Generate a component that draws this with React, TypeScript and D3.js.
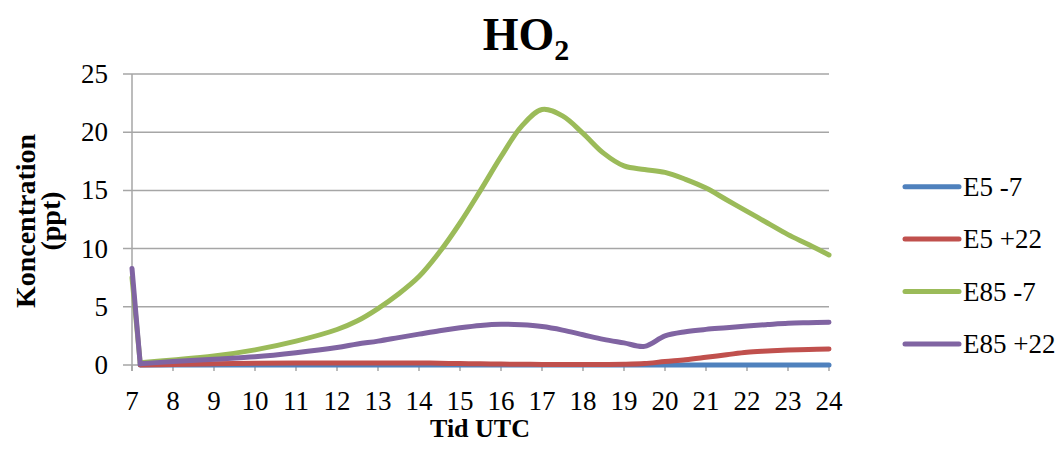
import React, { useRef, useEffect } from "react"
import * as d3 from "d3"

const hours = [7, 7.2, 8, 9, 10, 11, 12, 12.5, 13, 13.5, 14, 14.5, 15, 15.5, 16, 16.5, 17, 17.5, 18, 18.5, 19, 19.5, 20, 20.5, 21, 21.5, 22, 22.5, 23, 23.5, 24]

const e5Minus7 = [null, 0, 0, 0, 0, 0, 0, 0, 0, 0, 0, 0, 0, 0, 0, 0, 0, 0, 0, 0, 0, 0, 0, 0, 0, 0, 0, 0, 0, 0, 0]
const e5Plus22 = [null, 0, 0.05, 0.1, 0.15, 0.17, 0.18, 0.18, 0.18, 0.18, 0.18, 0.15, 0.12, 0.1, 0.08, 0.06, 0.05, 0.05, 0.05, 0.05, 0.06, 0.12, 0.3, 0.45, 0.66, 0.88, 1.1, 1.2, 1.28, 1.33, 1.37]
const e85Minus7 = [7.5, 0.2, 0.43, 0.77, 1.3, 2.05, 3.05, 3.8, 4.85, 6.1, 7.6, 9.7, 12.2, 15.0, 17.9, 20.5, 21.95, 21.4, 19.9, 18.2, 17.1, 16.8, 16.55, 15.95, 15.2, 14.2, 13.2, 12.2, 11.2, 10.35, 9.45]
const e85Plus22 = [8.3, 0.1, 0.3, 0.5, 0.7, 1.05, 1.5, 1.8, 2.05, 2.35, 2.65, 2.95, 3.2, 3.4, 3.5, 3.45, 3.3, 3.0, 2.6, 2.2, 1.9, 1.6, 2.5, 2.86, 3.06, 3.2, 3.35, 3.47, 3.58, 3.63, 3.67]

const seriesNames = ["E5 -7", "E5 +22", "E85 -7", "E85 +22"]
const seriesColors = ["#4F81BD", "#C0504D", "#9BBB59", "#8064A2"]
const seriesValues = [e5Minus7, e5Plus22, e85Minus7, e85Plus22]

const xTicks = d3.range(7, 25)
const yTicks = [0, 5, 10, 15, 20, 25]

const width = 1059
const height = 453
const font = "'Liberation Serif', 'Times New Roman', serif"

type Pt = { h: number; v: number | null }

const App: React.FC = () => {
  const svgRef = useRef<SVGSVGElement | null>(null)

  useEffect(() => {
    if (!svgRef.current) return
    const svg = d3.select(svgRef.current)
    svg.selectAll("*").remove()

    const x = d3.scaleLinear().domain([7, 24]).range([132, 829])
    const y = d3.scaleLinear().domain([0, 25]).range([365, 74])

    // gridlines
    svg
      .append("g")
      .selectAll("line")
      .data(yTicks)
      .join("line")
      .attr("x1", 123)
      .attr("x2", x(24))
      .attr("y1", (d) => y(d))
      .attr("y2", (d) => y(d))
      .attr("stroke", "#a6a6a6")
      .attr("stroke-width", 1.5)

    // y axis line
    svg
      .append("line")
      .attr("x1", x(7))
      .attr("x2", x(7))
      .attr("y1", y(25))
      .attr("y2", y(0) + 6)
      .attr("stroke", "#a6a6a6")
      .attr("stroke-width", 1.5)

    // x ticks
    svg
      .append("g")
      .selectAll("line")
      .data(xTicks)
      .join("line")
      .attr("x1", (d) => x(d))
      .attr("x2", (d) => x(d))
      .attr("y1", y(0))
      .attr("y2", y(0) + 6)
      .attr("stroke", "#a6a6a6")
      .attr("stroke-width", 1.5)

    // y tick labels
    svg
      .append("g")
      .selectAll("text")
      .data(yTicks)
      .join("text")
      .attr("x", 108)
      .attr("y", (d) => y(d) + 9)
      .attr("text-anchor", "end")
      .style("font-family", font)
      .style("font-size", "27px")
      .text((d) => d)

    // x tick labels
    svg
      .append("g")
      .selectAll("text")
      .data(xTicks)
      .join("text")
      .attr("x", (d) => x(d))
      .attr("y", 410)
      .attr("text-anchor", "middle")
      .style("font-family", font)
      .style("font-size", "27px")
      .text((d) => d)

    // series lines: straight drop at the start, smooth afterwards
    const straight = d3
      .line<Pt>()
      .defined((d) => d.v !== null)
      .x((d) => x(d.h))
      .y((d) => y(d.v as number))
    const smooth = d3
      .line<Pt>()
      .defined((d) => d.v !== null)
      .x((d) => x(d.h))
      .y((d) => y(d.v as number))
      .curve(d3.curveCatmullRom.alpha(0.5))

    seriesValues.forEach((vals, i) => {
      const pts: Pt[] = hours.map((h, j) => ({ h, v: vals[j] }))
      const head = pts.slice(0, 2).filter((d) => d.v !== null)
      const tail = pts.slice(1)
      const g = svg.append("g")
      const attrs = (p: d3.Selection<SVGPathElement, Pt[], null, undefined>) =>
        p
          .attr("fill", "none")
          .attr("stroke", seriesColors[i])
          .attr("stroke-width", 5)
          .attr("stroke-linejoin", "round")
          .attr("stroke-linecap", "round")
      if (head.length === 2) {
        g.append("path").datum(head).call(attrs).attr("d", straight)
      }
      g.append("path").datum(tail).call(attrs).attr("d", smooth)
    })

    // title
    const title = svg
      .append("text")
      .attr("x", 526)
      .attr("y", 50)
      .attr("text-anchor", "middle")
      .style("font-family", font)
      .style("font-weight", "bold")
      .style("font-size", "46px")
    title.append("tspan").text("HO")
    title.append("tspan").attr("dy", 10).style("font-size", "30px").text("2")

    // x axis title
    svg
      .append("text")
      .attr("x", 480)
      .attr("y", 437)
      .attr("text-anchor", "middle")
      .style("font-family", font)
      .style("font-weight", "bold")
      .style("font-size", "26px")
      .text("Tid UTC")

    // y axis title
    const yTitle = svg
      .append("text")
      .attr("transform", "translate(35,221) rotate(-90)")
      .attr("text-anchor", "middle")
      .style("font-family", font)
      .style("font-weight", "bold")
      .style("font-size", "28px")
    yTitle.append("tspan").attr("x", 0).attr("y", 0).text("Koncentration")
    yTitle.append("tspan").attr("x", 0).attr("y", 25).text("(ppt)")

    // legend
    const legend = svg
      .append("g")
      .selectAll("g")
      .data(seriesNames)
      .join("g")
      .attr("transform", (_, i) => `translate(0,${186.7 + i * 52.4})`)
    legend
      .append("line")
      .attr("x1", 905)
      .attr("x2", 959)
      .attr("stroke", (_, i) => seriesColors[i])
      .attr("stroke-width", 5)
      .attr("stroke-linecap", "round")
    legend
      .append("text")
      .attr("x", 963)
      .attr("y", 9)
      .style("font-family", font)
      .style("font-size", "27px")
      .text((d) => d)
  }, [])

  return (
    <svg
      ref={svgRef}
      width={width}
      height={height}
      style={{ position: "absolute", left: 0, top: 0, background: "#fff" }}
    ></svg>
  )
}

export default App
